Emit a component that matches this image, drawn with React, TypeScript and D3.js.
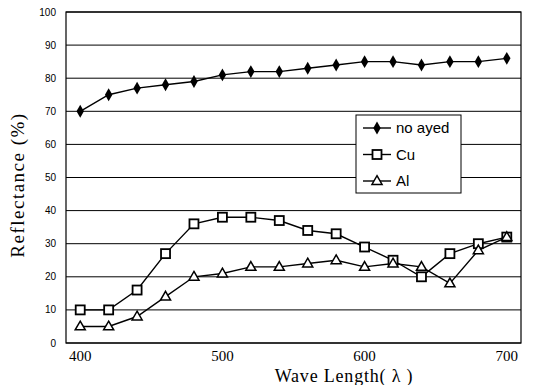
import React, { useEffect, useRef } from 'react';
import * as d3 from 'd3';

const waveLengths = [400, 420, 440, 460, 480, 500, 520, 540, 560, 580, 600, 620, 640, 660, 680, 700];
const noDyed = [70, 75, 77, 78, 79, 81, 82, 82, 83, 84, 85, 85, 84, 85, 85, 86];
const cu = [10, 10, 16, 27, 36, 38, 38, 37, 34, 33, 29, 25, 20, 27, 30, 32];
const al = [5, 5, 8, 14, 20, 21, 23, 23, 24, 25, 23, 24, 23, 18, 28, 32];
const yTicks = [0, 10, 20, 30, 40, 50, 60, 70, 80, 90, 100];
const xTicks = [400, 500, 600, 700];
const seriesNames = ['no ayed', 'Cu', 'Al'];

const App = () => {
  const svgRef = useRef<SVGSVGElement>(null);

  useEffect(() => {
    const width = 540;
    const height = 385;
    const margin = { top: 12, right: 19, bottom: 42, left: 66 };
    const w = width - margin.left - margin.right;
    const h = height - margin.top - margin.bottom;

    const root = d3.select(svgRef.current);
    root.selectAll('*').remove();
    root.attr('width', width).attr('height', height);
    root.append('rect').attr('width', width).attr('height', height).attr('fill', '#fff');

    const svg = root.append('g').attr('transform', `translate(${margin.left},${margin.top})`);

    const x = d3.scaleLinear().domain([390, 710]).range([0, w]);
    const y = d3.scaleLinear().domain([0, 100]).range([h, 0]);

    // grid lines
    svg
      .selectAll('line.grid')
      .data(yTicks)
      .enter()
      .append('line')
      .attr('x1', 0)
      .attr('x2', w)
      .attr('y1', d => y(d))
      .attr('y2', d => y(d))
      .attr('stroke', '#000')
      .attr('stroke-width', 1);

    svg
      .append('rect')
      .attr('width', w)
      .attr('height', h)
      .attr('fill', 'none')
      .attr('stroke', '#000')
      .attr('stroke-width', 1.2);

    // y tick labels
    svg
      .selectAll('text.ytick')
      .data(yTicks)
      .enter()
      .append('text')
      .attr('x', -10)
      .attr('y', d => y(d))
      .attr('dy', '0.35em')
      .attr('text-anchor', 'end')
      .attr('font-family', 'Arial, "Liberation Sans", sans-serif')
      .attr('font-size', 10)
      .text(d => d);

    // x tick labels
    svg
      .selectAll('text.xtick')
      .data(xTicks)
      .enter()
      .append('text')
      .attr('x', d => x(d))
      .attr('y', h + 18)
      .attr('text-anchor', 'middle')
      .attr('font-family', '"Liberation Serif", "DejaVu Serif", serif')
      .attr('font-size', 15)
      .text(d => d);

    root
      .append('text')
      .attr('x', 344)
      .attr('y', 382)
      .attr('text-anchor', 'middle')
      .attr('font-family', '"Liberation Serif", "DejaVu Serif", serif')
      .attr('font-size', 18)
      .attr('letter-spacing', 0.8)
      .text('Wave Length( λ )');

    root
      .append('text')
      .attr('transform', 'translate(24,185) rotate(-90)')
      .attr('text-anchor', 'middle')
      .attr('font-family', '"Liberation Serif", "DejaVu Serif", serif')
      .attr('font-size', 19)
      .attr('letter-spacing', 1.5)
      .text('Reflectance (%)');

    const line = d3
      .line<number>()
      .x((d, i) => x(waveLengths[i]))
      .y(d => y(d));

    const drawMarker = (g: any, type: string, cx: number, cy: number) => {
      if (type === 'diamond') {
        g.append('path')
          .attr('d', d3.symbol(d3.symbolDiamond, 48)())
          .attr('transform', `translate(${cx},${cy})`)
          .attr('fill', '#000');
      } else if (type === 'square') {
        g.append('rect')
          .attr('x', cx - 4.5)
          .attr('y', cy - 4.5)
          .attr('width', 9)
          .attr('height', 9)
          .attr('fill', '#fff')
          .attr('stroke', '#000')
          .attr('stroke-width', 1.8);
      } else {
        g.append('path')
          .attr('d', d3.symbol(d3.symbolTriangle, 44)())
          .attr('transform', `translate(${cx},${cy + 0.5})`)
          .attr('fill', '#fff')
          .attr('stroke', '#000')
          .attr('stroke-width', 1.5);
      }
    };

    const series = [
      { values: noDyed, marker: 'diamond' },
      { values: cu, marker: 'square' },
      { values: al, marker: 'triangle' },
    ];

    series.forEach(s => {
      svg
        .append('path')
        .datum(s.values)
        .attr('d', line)
        .attr('fill', 'none')
        .attr('stroke', '#000')
        .attr('stroke-width', 1.4);
    });
    series.forEach(s => {
      const g = svg.append('g');
      s.values.forEach((v, i) => drawMarker(g, s.marker, x(waveLengths[i]), y(v)));
    });

    // legend
    const lg = root.append('g').attr('transform', 'translate(356,115)');
    lg.append('rect')
      .attr('width', 105)
      .attr('height', 78)
      .attr('fill', '#fff')
      .attr('stroke', '#000')
      .attr('stroke-width', 1);
    seriesNames.forEach((name, i) => {
      const cy = 13 + i * 26.5;
      lg.append('line')
        .attr('x1', 7)
        .attr('x2', 35)
        .attr('y1', cy)
        .attr('y2', cy)
        .attr('stroke', '#000')
        .attr('stroke-width', 1.4);
      drawMarker(lg, series[i].marker, 21, cy);
      lg.append('text')
        .attr('x', 40)
        .attr('y', cy)
        .attr('dy', '0.35em')
        .attr('font-family', 'Arial, "Liberation Sans", sans-serif')
        .attr('font-size', 15)
        .text(name);
    });
  }, []);

  return <svg ref={svgRef} style={{ position: 'absolute', left: 0, top: 0 }}></svg>;
};

export default App;
